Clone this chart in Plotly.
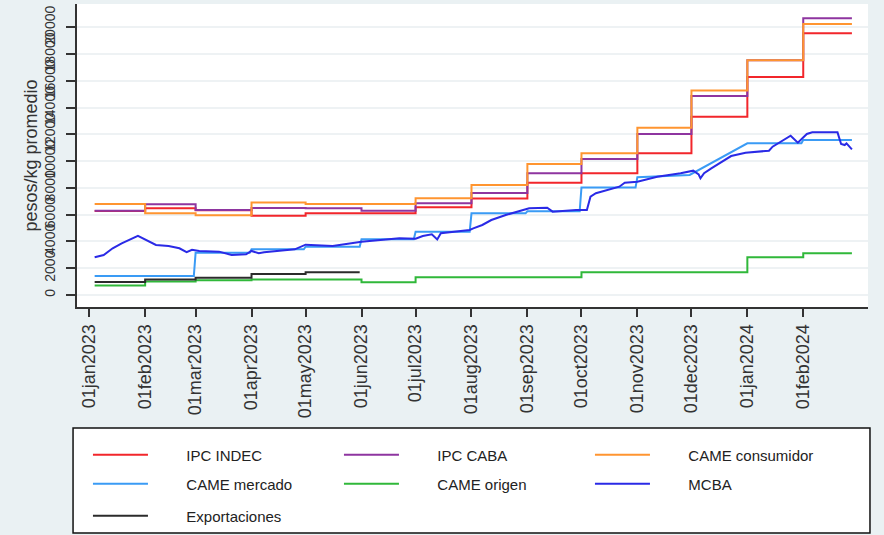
import plotly.graph_objects as go

# Serie mensuales (escalones): fecha de inicio de cada mes
STEP_DATES = [
    "2023-01-04", "2023-02-01", "2023-03-01", "2023-04-01", "2023-05-01",
    "2023-06-01", "2023-07-01", "2023-08-01", "2023-09-01", "2023-10-01",
    "2023-11-01", "2023-12-01", "2024-01-01", "2024-02-01", "2024-02-28",
]
IPC_INDEC = [6280, 6475, 6330, 5925, 6100, 6100, 6550, 7210, 8390, 9090,
             10590, 13320, 16280, 19550, 19550]
IPC_CABA = [6300, 6775, 6350, 6500, 6475, 6290, 6850, 7620, 9090, 10160,
            12030, 14870, 17530, 20670, 20670]
CAME_CONSUMIDOR = [6800, 6100, 5960, 6910, 6800, 6800, 7230, 8220, 9790, 10590,
                   12500, 15280, 17530, 20250, 20250]
CAME_ORIGEN = [700, 1000, 1110, 1150, 1150, 950, 1320, 1320, 1320, 1700,
               1700, 1700, 2820, 3110, 3110]

EXPO_DATES = ["2023-01-04", "2023-02-01", "2023-03-01", "2023-04-01",
              "2023-05-01", "2023-05-31"]
EXPORTACIONES = [980, 1150, 1290, 1570, 1700, 1700]

# CAME mercado (con tramo creciente en diciembre)
MERCADO_DATES = [
    "2023-01-04", "2023-02-28", "2023-03-01", "2023-03-31", "2023-04-01",
    "2023-04-30", "2023-05-01", "2023-05-31", "2023-06-01", "2023-06-30",
    "2023-07-01", "2023-07-31", "2023-08-01", "2023-08-31", "2023-09-01",
    "2023-09-30", "2023-10-01", "2023-10-31", "2023-11-01", "2023-11-30",
    "2024-01-01", "2024-01-31", "2024-02-01", "2024-02-28",
]
CAME_MERCADO = [1420, 1420, 3160, 3160, 3410, 3410, 3610, 3610, 4160, 4160,
                4730, 4730, 6100, 6100, 6250, 6250, 8040, 8040, 8800, 8965,
                11330, 11330, 11580, 11580]

# MCBA (serie diaria)
MCBA_DATES = [
    "2023-01-04", "2023-01-09", "2023-01-14", "2023-01-19", "2023-01-28",
    "2023-02-01", "2023-02-07", "2023-02-14", "2023-02-20", "2023-02-24",
    "2023-02-27", "2023-03-03", "2023-03-14", "2023-03-21", "2023-03-29",
    "2023-04-01", "2023-04-05", "2023-04-08", "2023-04-25", "2023-05-01",
    "2023-05-16", "2023-06-01", "2023-06-11", "2023-06-22", "2023-07-01",
    "2023-07-05", "2023-07-10", "2023-07-13", "2023-07-15", "2023-07-31",
    "2023-08-02", "2023-08-07", "2023-08-12", "2023-08-20", "2023-09-02",
    "2023-09-12", "2023-09-15", "2023-09-28", "2023-10-04", "2023-10-06",
    "2023-10-09", "2023-10-22", "2023-10-25", "2023-11-01", "2023-11-12",
    "2023-11-25", "2023-12-02", "2023-12-05", "2023-12-06", "2023-12-08",
    "2023-12-12", "2023-12-23", "2023-12-31", "2024-01-06", "2024-01-13",
    "2024-01-15", "2024-01-25", "2024-01-29", "2024-02-03", "2024-02-06",
    "2024-02-20", "2024-02-22", "2024-02-24", "2024-02-25", "2024-02-28",
]
MCBA = [
    2820, 2990, 3490, 3860, 4410,
    4160, 3740, 3660, 3490, 3200,
    3380, 3290, 3240, 2990, 3040,
    3290, 3120, 3200, 3410, 3760,
    3660, 3985, 4110, 4235, 4200,
    4410, 4530, 4150, 4610, 4860,
    4980, 5230, 5600, 5975, 6475,
    6525, 6225, 6350, 6350, 7345,
    7600, 8090, 8390, 8465, 8840,
    9090, 9290, 9000, 8715, 9100,
    9465, 10380, 10630, 10700, 10780,
    11080, 11900, 11380, 12030, 12150,
    12150, 11280, 11200, 11330, 10880,
]

TICK_DATES = [
    "2023-01-01", "2023-02-01", "2023-03-01", "2023-04-01", "2023-05-01",
    "2023-06-01", "2023-07-01", "2023-08-01", "2023-09-01", "2023-10-01",
    "2023-11-01", "2023-12-01", "2024-01-01", "2024-02-01",
]
TICK_LABELS = [
    "01jan2023", "01feb2023", "01mar2023", "01apr2023", "01may2023",
    "01jun2023", "01jul2023", "01aug2023", "01sep2023", "01oct2023",
    "01nov2023", "01dec2023", "01jan2024", "01feb2024",
]
Y_TICKS = [0, 2000, 4000, 6000, 8000, 10000, 12000, 14000, 16000, 18000, 20000]

FONT = "Liberation Sans, Arial, sans-serif"
PAD = "\u00a0" * 8  # separación entre la muestra de línea y el texto

fig = go.Figure()

# (nombre, fechas, valores, color, forma, leyenda)
series = [
    ("IPC INDEC", STEP_DATES, IPC_INDEC, "#f2262b", "hv", "legend"),
    ("IPC CABA", STEP_DATES, IPC_CABA, "#8e35a0", "hv", "legend"),
    ("CAME consumidor", STEP_DATES, CAME_CONSUMIDOR, "#ff9530", "hv", "legend"),
    ("CAME mercado", MERCADO_DATES, CAME_MERCADO, "#3a9bf5", "linear", "legend2"),
    ("CAME origen", STEP_DATES, CAME_ORIGEN, "#30b83a", "hv", "legend2"),
    ("MCBA", MCBA_DATES, MCBA, "#2a2ae6", "linear", "legend2"),
    ("Exportaciones", EXPO_DATES, EXPORTACIONES, "#2b2b2b", "hv", "legend3"),
]
for name, xs, ys, color, shape, leg in series:
    fig.add_trace(go.Scatter(
        x=xs, y=ys, name=PAD + name, mode="lines",
        line=dict(color=color, width=2, shape=shape),
        legend=leg,
    ))

# Recuadro de la leyenda (estilo Stata)
fig.add_shape(
    type="rect", xref="paper", yref="paper",
    x0=-0.005, x1=1.0025, y0=-0.746, y1=-0.399,
    line=dict(color="#111111", width=1.5), fillcolor="white", layer="below",
)

legend_common = dict(
    orientation="h", xref="container", yref="container",
    xanchor="left", yanchor="middle", x=0.0995,
    entrywidth=181, entrywidthmode="pixels", itemwidth=55,
    bgcolor="rgba(0,0,0,0)", font=dict(family=FONT, size=15, color="#222222"),
    traceorder="normal",
)

fig.update_layout(
    width=884, height=535,
    margin=dict(l=77, r=16, t=4, b=228),
    paper_bgcolor="#eaf1f3",
    plot_bgcolor="white",
    font=dict(family=FONT, color="#333333"),
    legend=dict(legend_common, y=1 - 455 / 535),
    legend2=dict(legend_common, y=1 - 484 / 535),
    legend3=dict(legend_common, y=1 - 516 / 535),
    xaxis=dict(
        type="date", automargin=False,
        range=["2022-12-25 05:00", "2024-03-07 22:00"],
        tickvals=TICK_DATES, ticktext=TICK_LABELS,
        tickangle=-90, tickfont=dict(size=18, color="#333333"),
        ticks="outside", ticklen=8, tickwidth=1.5, tickcolor="#333333",
        showline=True, linecolor="#333333", linewidth=2,
        showgrid=False, zeroline=False,
    ),
    yaxis=dict(
        automargin=False,
        range=[-897, 21740],
        tickvals=Y_TICKS, ticktext=[str(v) for v in Y_TICKS],
        tickangle=-90, tickfont=dict(size=14, color="#333333"),
        ticks="outside", ticklen=9, tickwidth=1.5, tickcolor="#333333",
        ticklabelstandoff=5,
        showline=True, linecolor="#333333", linewidth=2,
        showgrid=True, gridcolor="#eef2f4", gridwidth=1.5, zeroline=False,
        title=dict(text="pesos/kg promedio", font=dict(size=18, color="#333333"),
                   standoff=0),
    ),
)

# La página trae margen de 8 px en <body>; se quita para que la figura ocupe la ventana
fig.write_html(
    "out.html",
    config={"displayModeBar": False},
    post_script="document.body.style.margin = '0';",
)
